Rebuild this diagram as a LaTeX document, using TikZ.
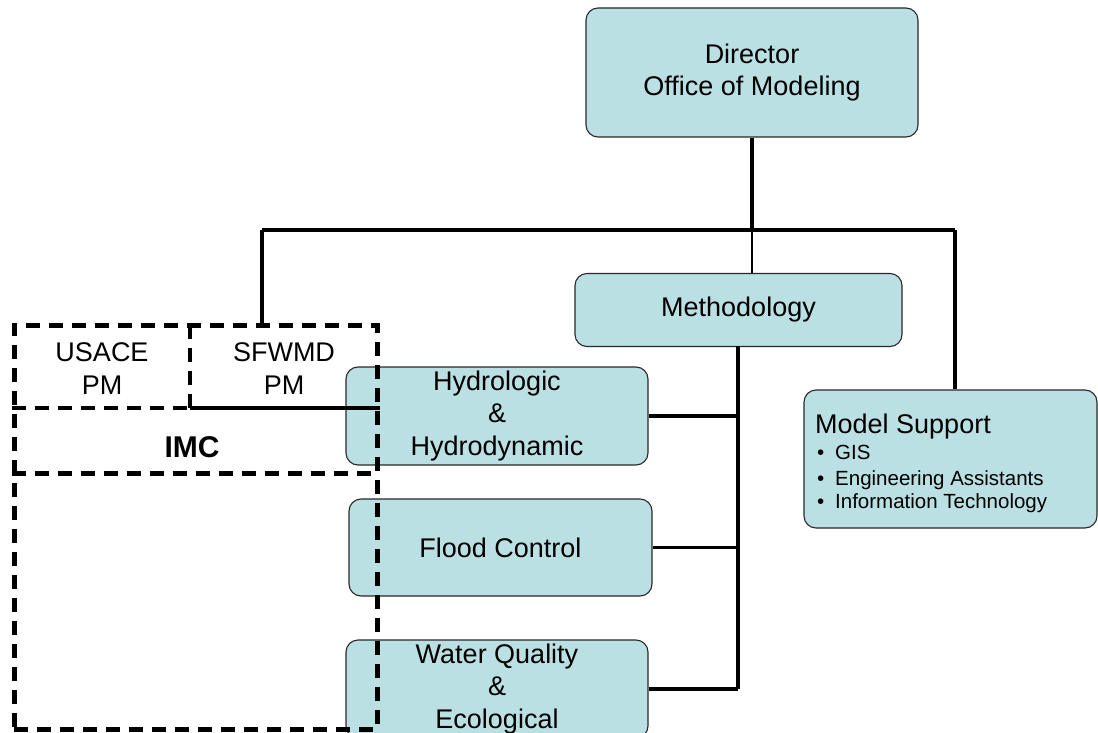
\documentclass[tikz,border=0pt]{standalone}
\usepackage{fontspec}
\setmainfont{Liberation Sans}
\definecolor{boxfill}{RGB}{187,224,227}
\definecolor{boxline}{RGB}{40,40,40}
\begin{document}
\begin{tikzpicture}[x=1pt,y=-1pt,
  unitbox/.style={draw=boxline, line width=1.1pt, fill=boxfill,
    rounded corners=12pt, inner sep=0pt, align=center,
    font=\fontsize{27}{32.5}\selectfont},
  plain/.style={inner sep=0pt, align=center, font=\fontsize{27}{33}\selectfont},
  small/.style={inner sep=0pt, anchor=base west, font=\fontsize{20.5}{24}\selectfont},
  heavy/.style={line width=4.5pt},
  medium/.style={line width=3.2pt},
  light/.style={line width=2.6pt},
  teamdash/.style={line width=5pt, dash pattern=on 14pt off 9pt},
  celldash/.style={line width=3.8pt, dash pattern=on 14pt off 9pt}]
\useasboundingbox (0,0) rectangle (1098,733);
\clip (0,0) rectangle (1098,733);

% organisation units
\node[unitbox, minimum width=332pt, minimum height=129pt] (director) at (752,72.5)
  {Director\\Office of Modeling};
\node[unitbox, minimum width=327pt, minimum height=73pt] (method) at (738.5,310) {Methodology};
\node[unitbox, minimum width=302pt, minimum height=98pt] (hydro) at (497,416)
  {Hydrologic\\\&\\Hydrodynamic};
\node[unitbox, minimum width=303pt, minimum height=97pt] (flood) at (500.5,547.5) {Flood Control};
\node[unitbox, minimum width=302pt, minimum height=98pt] (water) at (497,689)
  {Water Quality\\\&\\Ecological};
\node[unitbox, minimum width=293pt, minimum height=138pt] (support) at (950.5,459) {};
\node[inner sep=0pt, anchor=base west, font=\fontsize{27}{32}\selectfont] (supporttitle) at (815,433) {Model Support};
\node[small] (gis) at (817,459) {\makebox[18pt][l]{•}GIS};
\node[small] (eng) at (817,485) {\makebox[18pt][l]{•}Engineering Assistants};
\node[small] (it) at (817,508) {\makebox[18pt][l]{•}Information Technology};

% reporting lines
\coordinate (bar) at (752,230);
\coordinate (barleft) at (262,230);
\coordinate (barright) at (955,230);
\coordinate (spine) at (738,346);
\draw[heavy] (director.south) -- (bar);
\draw[heavy] (barleft) -- (barright);
\draw[light] (bar) -- (bar |- method.north);
\draw[heavy] (barright) -- (barright |- support.north);
\draw[medium] (spine) -- (spine |- water.east);
\draw[medium] (hydro.east) -- (hydro.east -| spine);
\draw[medium] (flood.east) -- (flood.east -| spine);
\draw[medium] (water.east) -- (water.east -| spine);

% IMC team frame
\node[draw, teamdash, minimum width=363pt, minimum height=404pt, inner sep=0pt] (imc) at (195.5,527) {};
\coordinate (cellsplit) at (190,325);
\coordinate (cellbase) at (190,408);
\draw[celldash] (cellsplit) -- (cellbase);
\draw[celldash] (imc.west |- cellbase) -- (cellbase);
\draw[medium] (cellbase) -- (cellbase -| imc.east);
\draw[teamdash] (imc.west |- 0,473) -- (imc.east |- 0,473);
\node[plain] (usace) at (102,368.5) {USACE\\PM};
\node[plain] (sfwmd) at (284,368.5) {SFWMD\\PM};
\node[inner sep=0pt, font=\fontsize{30}{36}\selectfont\bfseries] (imclabel) at (192,447) {IMC};
\draw[medium] (barleft) -- (barleft |- imc.north);
\end{tikzpicture}
\end{document}
